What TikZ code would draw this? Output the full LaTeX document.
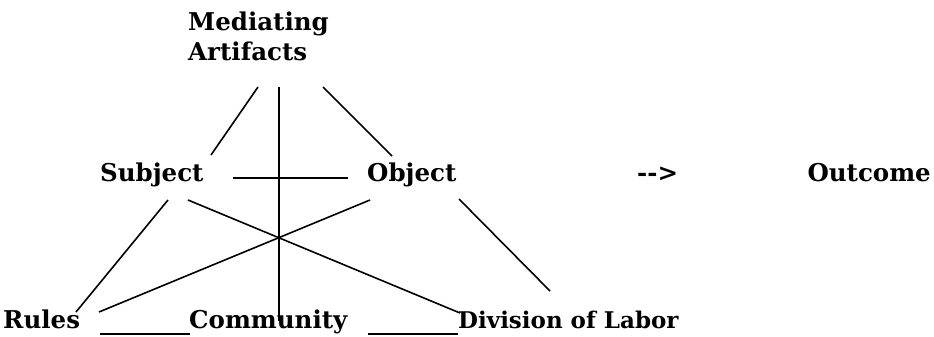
\documentclass[tikz,border=0pt]{standalone}
\usepackage{fontspec}
\setmainfont{DejaVu Serif}
\begin{document}
\begin{tikzpicture}[x=1pt,y=-1pt,
  lbl/.style={anchor=base west,inner sep=0pt,font=\fontsize{24.5}{30}\selectfont\bfseries},
  conn/.style={line width=1.6pt,black}]
\useasboundingbox[fill=white] (0,0) rectangle (934,337);
% labels
\node[lbl,align=left] (med) at (188,61) {Mediating\\Artifacts};
\node[lbl] (subj) at (100,181) {Subject};
\node[lbl] (obj) at (367,181) {Object};
\node[lbl] (arr) at (637,181) {-{}->};
\node[lbl,anchor=base east] (out) at (931,181) {Outcome};
\node[lbl] (rules) at (3,328) {Rules};
\node[lbl] (comm) at (189,328) {Community};
\node[lbl,font=\fontsize{23}{30}\selectfont\bfseries] (div) at (458,328) {Division of Labor};
% connector end points
\coordinate (ml1) at (258,87);
\coordinate (ml2) at (211,155);
\coordinate (mv1) at (279,87);
\coordinate (mv2) at (279,321);
\coordinate (mr1) at (323,87);
\coordinate (mr2) at (392,156);
\coordinate (h1) at (233,178);
\coordinate (h2) at (348,178);
\coordinate (sr1) at (168,200);
\coordinate (sr2) at (76,312);
\coordinate (sd1) at (188,200);
\coordinate (sd2) at (460,313);
\coordinate (or1) at (370,200);
\coordinate (or2) at (99,312);
\coordinate (od1) at (459,199);
\coordinate (od2) at (550,291);
\coordinate (u1a) at (100,334);
\coordinate (u1b) at (190,334);
\coordinate (u2a) at (368,334);
\coordinate (u2b) at (458,334);
% connectors
\draw[conn] (ml1) -- (ml2);
\draw[conn] (mv1) -- (mv2);
\draw[conn] (mr1) -- (mr2);
\draw[conn] (h1) -- (h2);
\draw[conn] (sr1) -- (sr2);
\draw[conn] (sd1) -- (sd2);
\draw[conn] (or1) -- (or2);
\draw[conn] (od1) -- (od2);
\draw[conn] (u1a) -- (u1b);
\draw[conn] (u2a) -- (u2b);
\end{tikzpicture}
\end{document}
